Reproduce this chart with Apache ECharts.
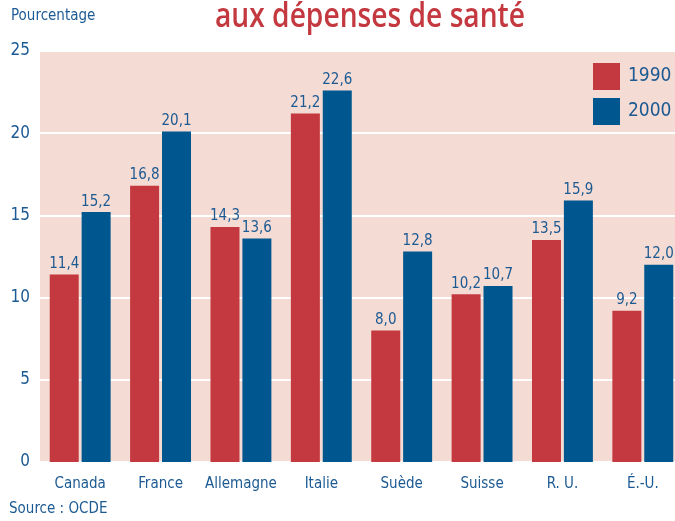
<!DOCTYPE html>
<html><head><meta charset="utf-8">
<script src="https://cdn.jsdelivr.net/npm/echarts@6/dist/echarts.min.js"></script>
<style>html,body{margin:0;padding:0;background:#fff;overflow:hidden}#c{width:683px;height:521px}</style>
</head><body><div id="c"></div>
<script>
const categories = ['Canada','France','Allemagne','Italie','Suède','Suisse','R. U.','É.-U.'];
const values1990 = [11.4,16.8,14.3,21.2,8.0,10.2,13.5,9.2];
const values2000 = [15.2,20.1,13.6,22.6,12.8,10.7,15.9,12.0];
const seriesNames = ['1990','2000'];
const yTicks = {min:0,max:25,interval:5};
const titleText = 'aux dépenses de santé';

const FONT = '"Liberation Sans Narrow","DejaVu Sans Condensed",sans-serif';
const TFONT = '"Open Sans",sans-serif';
const BLUE_TXT = '#1c5a93';
const RED = '#c4383f';
const BLUE = '#00578f';
const fmt = p => p.value.toFixed(1).replace('.', ',');

// scale title horizontally to the reference width
const cv = document.createElement('canvas').getContext('2d');
cv.font = '600 34px ' + TFONT;
const tW = cv.measureText(titleText).width;
const tScale = 310 / tW;

const chart = echarts.init(document.getElementById('c'), null, {renderer:'canvas'});
chart.setOption({
  animation:false,
  textStyle:{fontFamily:FONT},
  grid:{left:40, right:0, top:51, bottom:59, show:true, backgroundColor:'#f4dbd3', borderWidth:0},
  legend:{data:seriesNames, orient:'vertical', left:593, top:63, padding:0, itemWidth:27, itemHeight:27, itemGap:8,
    icon:'rect', textStyle:{fontSize:19, color:BLUE_TXT, fontFamily:FONT, padding:[0,0,0,3]}},
  graphic:[
    {type:'text', left:11, top:9, style:{text:'Pourcentage', fontSize:15, fill:BLUE_TXT, fontFamily:FONT}},
    {type:'text', left:9, top:502, style:{text:'Source : OCDE', fontSize:15, fill:BLUE_TXT, fontFamily:FONT}},
    {type:'text', x:215, y:0, scaleX:tScale, style:{text:titleText, fontSize:34, fontWeight:600, fill:RED, fontFamily:TFONT, verticalAlign:'top'}}
  ],
  xAxis:{type:'category', data:categories, axisLine:{show:false}, axisTick:{show:false},
    axisLabel:{interval:0, fontSize:15, color:BLUE_TXT, margin:15, fontFamily:FONT}},
  yAxis:{type:'value', min:yTicks.min, max:yTicks.max, interval:yTicks.interval,
    axisLine:{show:false}, axisTick:{show:false},
    axisLabel:{fontSize:17, color:BLUE_TXT, margin:10, fontFamily:FONT},
    splitLine:{lineStyle:{color:'#ffffff', width:2}}},
  series:[
    {name:seriesNames[0], type:'bar', data:values1990, barWidth:29, barGap:'10%', itemStyle:{color:RED},
      label:{show:true, position:'top', distance:3, fontSize:15, color:BLUE_TXT, formatter:fmt, fontFamily:FONT}},
    {name:seriesNames[1], type:'bar', data:values2000, barWidth:29, barGap:'10%', itemStyle:{color:BLUE},
      label:{show:true, position:'top', distance:3, fontSize:15, color:BLUE_TXT, formatter:fmt, fontFamily:FONT}}
  ]
});
</script></body></html>
